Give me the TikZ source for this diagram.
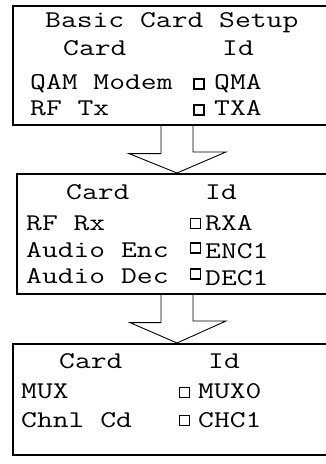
\documentclass[tikz,border=0pt]{standalone}
\usepackage{fontspec}
\newcommand\cardfont{\ttfamily\fontsize{24}{28}\selectfont}
\newcommand\wide[1]{\scalebox{1.28}[1]{#1}}
\tikzset{
  panel/.style={draw=black, line width=1.6pt, anchor=north west, inner sep=0pt, minimum width=340pt},
  txt/.style={anchor=base west, inner sep=0pt, text=black, font=\cardfont},
  chk/.style={draw=black, line width=1.3pt, minimum size=10pt, inner sep=0pt},
  flow/.style={draw=black, line width=0.9pt, line join=miter}
}
\begin{document}
\begin{tikzpicture}[x=1pt, y=-1pt]
\clip (0,0) rectangle (326,464);
% three panels, running past the right edge
\node[panel, minimum height=119pt] (b1) at (12,5) {};
\node[panel, minimum height=120pt] (b2) at (16,173) {};
\node[panel, minimum height=111pt] (b3) at (12,343) {};

% panel 1
\node[txt] (t1) at (45,27) {\wide{Basic Card Setup}};
\node[txt] (c1) at (63,55) {\wide{Card}};
\node[txt] (i1) at (222,55) {\wide{Id}};
\node[txt] (r11) at (30,89) {\wide{QAM Modem}};
\node[chk] (s11) at (199,84) {};
\node[txt] (d11) at (214,89) {\wide{QMA}};
\node[txt] (r12) at (30,115) {\wide{RF Tx}};
\node[chk] (s12) at (199,110) {};
\node[txt] (d12) at (214,115) {\wide{TXA}};

% panel 2
\node[txt] (c2) at (66,199) {\wide{Card}};
\node[txt] (i2) at (205,199) {\wide{Id}};
\node[txt] (r21) at (26,230) {\wide{RF Rx}};
\node[chk] (s21) at (195.5,223.5) {};
\node[txt] (d21) at (205,230) {\wide{RXA}};
\node[txt] (r22) at (26,257) {\wide{Audio Enc}};
\node[chk] (s22) at (195.5,248) {};
\node[txt] (d22) at (205,258) {\wide{ENC1}};
\node[txt] (r23) at (26,283) {\wide{Audio Dec}};
\node[chk] (s23) at (195.5,274) {};
\node[txt] (d23) at (205,285) {\wide{DEC1}};

% panel 3
\node[txt] (c3) at (59,368) {\wide{Card}};
\node[txt] (i3) at (208,368) {\wide{Id}};
\node[txt] (r31) at (21,398) {\wide{MUX}};
\node[chk] (s31) at (184.5,392.5) {};
\node[txt] (d31) at (198,398) {\wide{MUX0}};
\node[txt] (r32) at (21,427) {\wide{Chnl Cd}};
\node[chk] (s32) at (184.5,420.5) {};
\node[txt] (d32) at (198,427) {\wide{CHC1}};

% block arrows between the panels
\coordinate (a1) at ([xshift=165pt]b1.south west);
\coordinate (h1) at ([xshift=161pt]b2.north west);
\draw[flow] ([xshift=-16pt]a1) -- ([xshift=-16pt,yshift=-28pt]a1) -- ([xshift=-48pt,yshift=-28pt]a1)
  -- (h1) -- ([xshift=49pt,yshift=21pt]h1) -- ([xshift=16pt,yshift=21pt]h1) -- ([xshift=16pt]a1);
\coordinate (a2) at ([xshift=161pt]b2.south west);
\coordinate (h2) at ([xshift=165pt]b3.north west);
\draw[flow] ([xshift=-16pt]a2) -- ([xshift=-16pt,yshift=-28pt]a2) -- ([xshift=-47pt,yshift=-28pt]a2)
  -- (h2) -- ([xshift=49pt,yshift=22pt]h2) -- ([xshift=16pt,yshift=22pt]h2) -- ([xshift=16pt]a2);
\end{tikzpicture}
\end{document}
